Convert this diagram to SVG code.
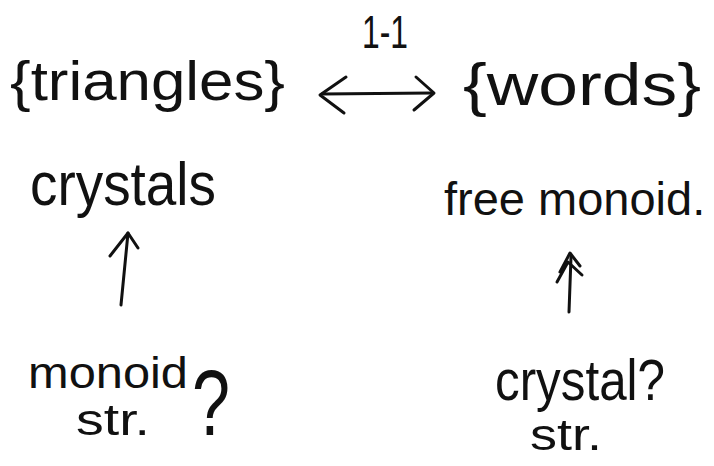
<svg xmlns="http://www.w3.org/2000/svg" width="714" height="466" viewBox="0 0 714 466">
  <style>
    .t { font-family: "Liberation Sans", "DejaVu Sans", sans-serif; fill: #111; }
    .c { fill: none; stroke: #111; stroke-width: 3; stroke-linecap: round; stroke-linejoin: round; }
  </style>
  <rect width="714" height="466" fill="#fff"/>

  <g id="triangles">
    <text class="t" x="10" y="100" font-size="56" textLength="275" lengthAdjust="spacingAndGlyphs">{triangles}</text>
  </g>
  <g id="words">
    <text class="t" x="463" y="105" font-size="60" textLength="238" lengthAdjust="spacingAndGlyphs">{words}</text>
  </g>
  <g id="crystals">
    <text class="t" x="30" y="205" font-size="62" textLength="186" lengthAdjust="spacingAndGlyphs">crystals</text>
  </g>
  <g id="free-monoid">
    <text class="t" x="444" y="215" font-size="47">free monoid.</text>
  </g>
  <g id="monoid-str">
    <text class="t" x="28" y="388" font-size="44" textLength="160" lengthAdjust="spacingAndGlyphs">monoid</text>
    <text class="t" x="76" y="435" font-size="44" textLength="74" lengthAdjust="spacingAndGlyphs">str.</text>
    <text class="t" x="192" y="435" font-size="92" textLength="38" lengthAdjust="spacingAndGlyphs">?</text>
  </g>
  <g id="crystal-str">
    <text class="t" x="495" y="400" font-size="58" textLength="170" lengthAdjust="spacingAndGlyphs">crystal?</text>
    <text class="t" x="530" y="450" font-size="44" textLength="72" lengthAdjust="spacingAndGlyphs">str.</text>
  </g>

  <g id="connectors">
    <!-- 1-1 correspondence -->
    <text class="t" x="362" y="48" font-size="46" textLength="46" lengthAdjust="spacingAndGlyphs">1-1</text>
    <path class="c" d="M322 94 L432 93"/>
    <path class="c" d="M346 77 L320 95 L344 113"/>
    <path class="c" d="M416 77 L434 93 L414 110"/>
    <!-- monoid str. to crystals -->
    <path class="c" d="M121 305 L128 233"/>
    <path class="c" d="M110 256 L128 233 L138 248"/>
    <!-- crystal str. onto free monoid -->
    <path class="c" d="M569 312 L571 257"/>
    <path class="c" d="M557 282 L568 262 L582 275"/>
    <path class="c" d="M560 272 L570 253 L580 266"/>
  </g>
</svg>
